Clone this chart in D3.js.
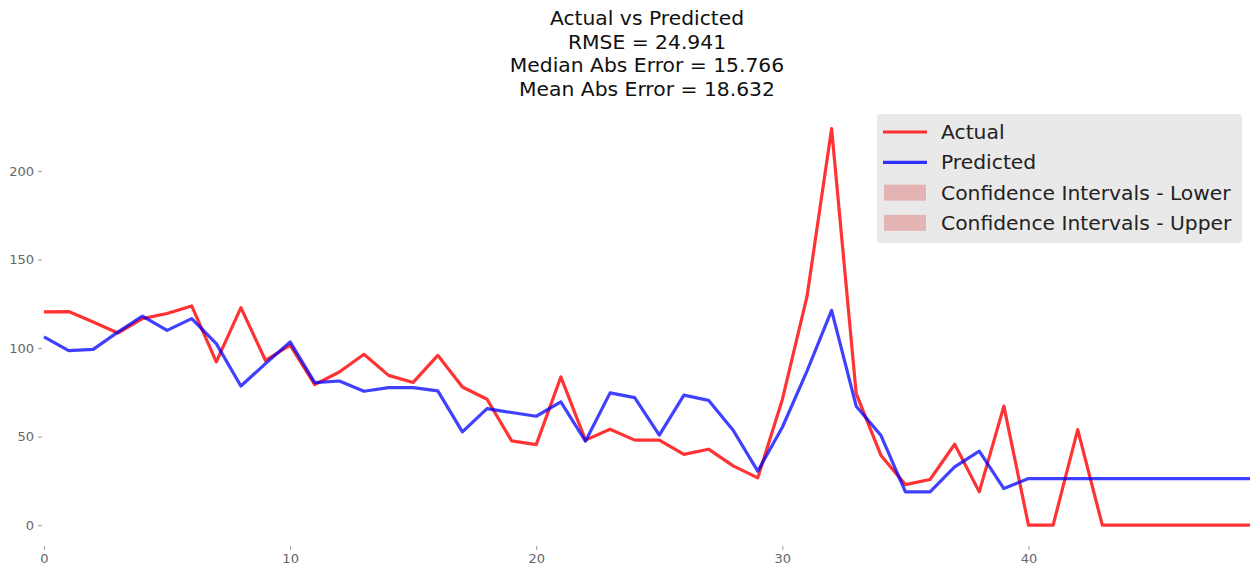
<!DOCTYPE html>
<html>
<head>
<meta charset="utf-8">
<script src="https://cdn.jsdelivr.net/npm/d3@7"></script>
<style>
  body { margin: 0; background: #fff; }
  text { font-family: "DejaVu Sans", sans-serif; }
</style>
</head>
<body>
<svg id="chart" width="1252" height="574"></svg>
<script>
// values
var actual = [120.4, 120.6, 114.7, 108.5, 116.6, 119.5, 123.8, 92.2, 122.8, 93.0,
  101.6, 79.4, 86.5, 96.5, 84.6, 80.6, 95.9, 78.0, 71.1, 47.6,
  45.5, 83.7, 48.0, 54.2, 48.0, 48.0, 40.0, 42.9, 33.5, 26.7,
  71.0, 129.0, 223.9, 74.3, 39.5, 22.9, 25.8, 45.7, 18.8, 67.2,
  0, 0, 54.0, 0, 0, 0, 0, 0, 0, 0];
var predicted = [106.3, 98.6, 99.3, 109.0, 118.1, 110.0, 116.6, 102.5, 78.6, 91.2,
  103.5, 80.5, 81.4, 75.6, 77.7, 77.7, 75.8, 52.7, 65.8, 63.6,
  61.5, 69.6, 47.4, 74.7, 72.0, 50.8, 73.4, 70.5, 53.6, 30.5,
  55.3, 87.0, 121.3, 67.2, 50.8, 18.8, 18.8, 32.9, 41.8, 20.7,
  26.3, 26.3, 26.3, 26.3, 26.3, 26.3, 26.3, 26.3, 26.3, 26.3];
var titleLines = ["Actual vs Predicted", "RMSE = 24.941", "Median Abs Error = 15.766", "Mean Abs Error = 18.632"];
var legendItems = [
  {label: "Actual", kind: "line", color: "rgba(255,0,0,0.8)"},
  {label: "Predicted", kind: "line", color: "rgba(0,0,255,0.8)"},
  {label: "Confidence Intervals - Lower", kind: "patch", color: "rgba(220,80,80,0.35)"},
  {label: "Confidence Intervals - Upper", kind: "patch", color: "rgba(220,80,80,0.35)"}
];
var xTicks = [0, 10, 20, 30, 40];
var yTicks = [0, 50, 100, 150, 200];

var svg = d3.select("#chart");
var plotLeft = 44, plotRight = 1250, plotTop = 109, plotBottom = 545;

var x = d3.scaleLinear().domain([0, actual.length - 1]).range([plotLeft, plotRight]);
var y = d3.scaleLinear().domain([-11.2, 235]).range([plotBottom, plotTop]);

// title
svg.append("g").selectAll("text").data(titleLines).enter().append("text")
  .attr("x", 647).attr("y", function(d, i) { return 25 + i * 23.5; })
  .attr("text-anchor", "middle").attr("font-size", 20.3).attr("fill", "#111")
  .text(function(d) { return d; });

// axes, no spines
var yAxis = svg.append("g").attr("transform", "translate(" + (plotLeft - 2) + ",0)")
  .call(d3.axisLeft(y).tickValues(yTicks).tickSize(4).tickPadding(4));
var xAxis = svg.append("g").attr("transform", "translate(0," + (plotBottom + 1) + ")")
  .call(d3.axisBottom(x).tickValues(xTicks).tickSize(4).tickPadding(4));
[yAxis, xAxis].forEach(function(a) {
  a.select(".domain").remove();
  a.selectAll(".tick line").attr("stroke", "#999");
  a.selectAll(".tick text").attr("fill", "#666").attr("font-size", 13)
    .style("font-family", "DejaVu Sans, sans-serif");
});

var line = d3.line().x(function(d, i) { return x(i); }).y(function(d) { return y(d); });

svg.append("path").datum(actual).attr("d", line)
  .attr("fill", "none").attr("stroke", "rgba(255,0,0,0.8)").attr("stroke-width", 3.2)
  .attr("stroke-linejoin", "round");
svg.append("path").datum(predicted).attr("d", line)
  .attr("fill", "none").attr("stroke", "rgba(0,0,255,0.75)").attr("stroke-width", 3.2)
  .attr("stroke-linejoin", "round");

// legend
var lg = svg.append("g").attr("transform", "translate(877,114)");
lg.append("rect").attr("width", 365).attr("height", 129).attr("rx", 4)
  .attr("fill", "#e8e8e8").attr("opacity", 0.95);
var row = lg.selectAll("g.item").data(legendItems).enter().append("g")
  .attr("transform", function(d, i) { return "translate(0," + (18 + i * 30.3) + ")"; });
row.each(function(d) {
  var g = d3.select(this);
  if (d.kind == "line") {
    g.append("line").attr("x1", 6).attr("x2", 50).attr("y1", 0).attr("y2", 0)
      .attr("stroke", d.color).attr("stroke-width", 3.2);
  } else {
    g.append("rect").attr("x", 7).attr("y", -8).attr("width", 42).attr("height", 16)
      .attr("fill", d.color);
  }
});
row.append("text").attr("x", 64).attr("y", 7).attr("font-size", 20.3).attr("fill", "#222")
  .text(function(d) { return d.label; });
</script>
</body>
</html>
